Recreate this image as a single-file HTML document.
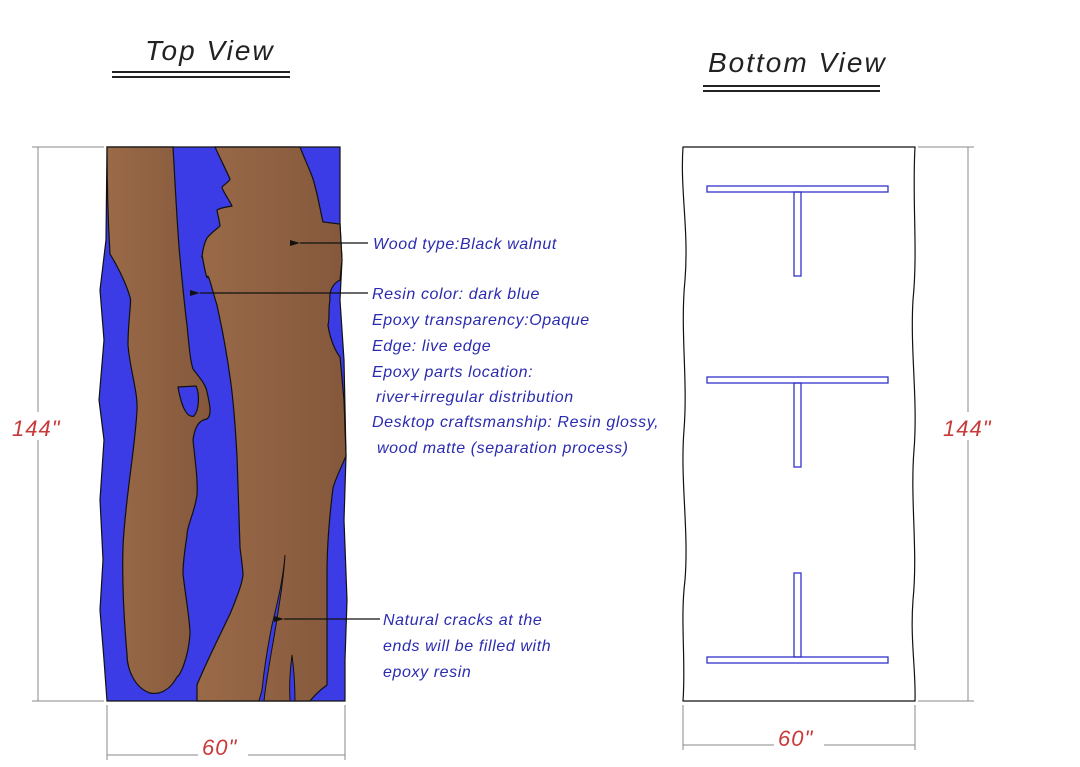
<!DOCTYPE html>
<html><head><meta charset="utf-8"><style>
html,body{margin:0;padding:0;background:#fff;}
svg{display:block;}
text{font-family:"Liberation Sans",sans-serif;font-style:italic;}
</style></head><body>
<svg width="1080" height="767" viewBox="0 0 1080 767" xmlns="http://www.w3.org/2000/svg">
<defs>
<linearGradient id="wood" x1="0" x2="1" y1="0" y2="0">
<stop offset="0" stop-color="#9a6a48"/><stop offset="1" stop-color="#85583c"/>
</linearGradient>
<marker id="ah" markerWidth="10" markerHeight="6" refX="0" refY="3" orient="auto-start-reverse" markerUnits="userSpaceOnUse">
<path d="M0,3 L10,0 L10,6 Z" fill="#111"/>
</marker>
</defs>

<text x="145" y="60" font-size="28" fill="#222" letter-spacing="2">Top View</text>
<line x1="112" y1="72" x2="290" y2="72" stroke="#222" stroke-width="2"/>
<line x1="112" y1="77" x2="290" y2="77" stroke="#222" stroke-width="2"/>
<text x="708" y="72" font-size="28" fill="#222" letter-spacing="2">Bottom View</text>
<line x1="703" y1="86" x2="880" y2="86" stroke="#222" stroke-width="2"/>
<line x1="703" y1="91" x2="880" y2="91" stroke="#222" stroke-width="2"/>

<path d="M107,147 L340,147 L340,224 L342,260 L340,300 L344,360 L346,456 L344,520 L347,600 L345,660 L345,701 L107,701 L104,660 L100,610 L103,560 L100,500 L104,440 L99,400 L104,340 L100,290 L106,240 Z" fill="#3c3ce6" stroke="#111" stroke-width="1.2"/>
<path d="M107,147 L173,147 C176,200 178,240 180,258 C183,290 185,310 187,325 C189,345 190,360 193,369 C200,378 206,385 207,392 C210,405 212,415 207,419 C200,420 195,425 193,440 C195,460 198,480 197,495 C194,515 187,525 187,535 C185,550 183,560 183,574 C186,600 190,620 190,634 C188,660 180,675 177,677 C170,690 160,695 150,693 C135,688 127,670 127,654 C124,620 122,580 123,547 C125,500 135,450 137,410 C138,392 130,370 128,345 C128,320 132,300 130,297 C125,280 115,262 110,254 C108,220 107,180 107,147 Z" fill="url(#wood)" stroke="#111" stroke-width="1.2"/>
<path d="M178,387 L196,386 C200,395 199,410 194,416 C188,418 182,410 178,387 Z" fill="#3c3ce6" stroke="#111" stroke-width="1.2"/>
<path d="M215,147 L300,147 C305,160 310,170 313,179 C318,195 320,210 323,222 L340,224 L342,260 L340,280 C332,284 329,292 330,300 C328,310 330,318 328,325 C330,340 336,352 340,357 L344,400 L346,456 C340,470 335,480 333,488 C329,520 327,550 327,574 L327,685 C320,690 314,696 310,701 L197,701 L197,685 C205,665 220,635 230,614 C238,595 243,580 243,574 C242,560 240,550 240,547 C239,520 238,480 237,456 C235,420 232,390 230,377 C225,340 220,320 217,305 C212,290 208,270 207,278 C203,265 202,250 202,258 C203,245 206,240 207,238 C212,232 218,228 220,226 C219,218 217,212 217,210 C222,207 228,207 232,206 C228,198 222,190 222,187 C226,183 230,181 230,179 C226,170 220,158 215,147 Z" fill="url(#wood)" stroke="#111" stroke-width="1.2"/>
<path d="M285,555 C283,580 278,600 272,625 C268,645 264,670 262,690 L259,701 L264,701 C266,680 272,650 276,625 C280,600 284,575 285,555 Z" fill="#3c3ce6" stroke="#111" stroke-width="1"/>
<path d="M292,655 C290,670 289,685 290,701 L295,701 C295,685 294,670 292,655 Z" fill="#3c3ce6" stroke="#111" stroke-width="1"/>

<line x1="368" y1="243" x2="300" y2="243" stroke="#111" stroke-width="1.2" marker-end="url(#ah)"/>
<line x1="368" y1="293" x2="200" y2="293" stroke="#111" stroke-width="1.2" marker-end="url(#ah)"/>
<line x1="380" y1="619" x2="284" y2="619" stroke="#111" stroke-width="1.2" marker-end="url(#ah)"/>

<g font-size="16" fill="#2b2bb0" letter-spacing="0.6">
<text x="373" y="249">Wood type:Black walnut</text>
<text x="372" y="299">Resin color: dark blue</text>
<text x="372" y="325">Epoxy transparency:Opaque</text>
<text x="372" y="351">Edge: live  edge</text>
<text x="372" y="377">Epoxy parts location:</text>
<text x="376" y="402">river+irregular distribution</text>
<text x="372" y="427">Desktop craftsmanship: Resin glossy,</text>
<text x="377" y="453">wood matte (separation process)</text>
<text x="383" y="625">Natural cracks at the</text>
<text x="383" y="651">ends will be filled with</text>
<text x="383" y="677">epoxy resin</text>
</g>

<g stroke="#888" stroke-width="1" fill="none">
<line x1="38" y1="147" x2="38" y2="701"/>
<line x1="32" y1="147" x2="104" y2="147"/>
<line x1="32" y1="701" x2="104" y2="701"/>
<line x1="107" y1="705" x2="107" y2="760"/>
<line x1="345" y1="705" x2="345" y2="760"/>
<line x1="107" y1="755" x2="345" y2="755"/>
</g>
<rect x="10" y="412" width="56" height="28" fill="#fff"/>
<text x="12" y="436" font-size="22" fill="#c83a3a" letter-spacing="1">144"</text>
<rect x="198" y="735" width="50" height="24" fill="#fff"/>
<text x="202" y="755" font-size="22" fill="#c83a3a" letter-spacing="1">60"</text>

<path d="M683,147 L915,147 C912,200 918,250 913,300 C910,350 918,400 914,450 C910,500 918,550 913,600 C910,640 916,670 915,701 L683,701 C686,660 680,620 685,580 C689,530 680,480 684,430 C688,380 680,330 685,280 C689,230 680,190 683,147 Z" fill="#fff" stroke="#111" stroke-width="1.2"/>
<g fill="none" stroke="#3333cc" stroke-width="1.3">
<rect x="707" y="186" width="181" height="6"/>
<rect x="794" y="192" width="7" height="84"/>
<rect x="707" y="377" width="181" height="6"/>
<rect x="794" y="383" width="7" height="84"/>
<rect x="794" y="573" width="7" height="84"/>
<rect x="707" y="657" width="181" height="6"/>
</g>

<g stroke="#888" stroke-width="1" fill="none">
<line x1="968" y1="147" x2="968" y2="701"/>
<line x1="918" y1="147" x2="974" y2="147"/>
<line x1="918" y1="701" x2="974" y2="701"/>
<line x1="683" y1="705" x2="683" y2="750"/>
<line x1="915" y1="705" x2="915" y2="750"/>
<line x1="683" y1="745" x2="915" y2="745"/>
</g>
<rect x="940" y="412" width="58" height="28" fill="#fff"/>
<text x="943" y="436" font-size="22" fill="#c83a3a" letter-spacing="1">144"</text>
<rect x="774" y="726" width="50" height="24" fill="#fff"/>
<text x="778" y="746" font-size="22" fill="#c83a3a" letter-spacing="1">60"</text>
</svg>
</body></html>
